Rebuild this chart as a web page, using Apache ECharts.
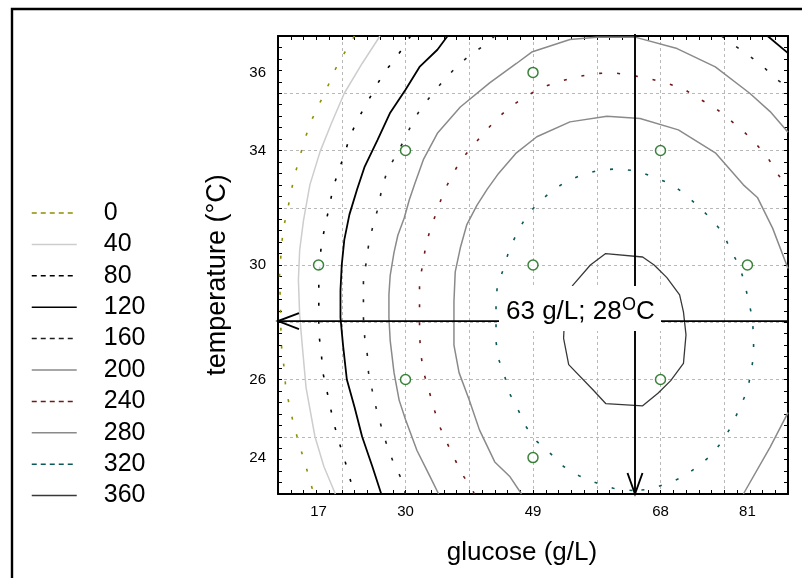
<!DOCTYPE html>
<html>
<head>
<meta charset="utf-8">
<script src="https://cdn.jsdelivr.net/npm/echarts@6/dist/echarts.min.js"></script>
<style>
  html, body { margin: 0; padding: 0; background: #fff; }
  #chart { width: 802px; height: 578px; }
</style>
</head>
<body>
<div id="chart"></div>
<script>
// axes are in coded units (-2 .. 2), labels show the real values
const glucoseCoded = [-1.682, -1, 0, 1, 1.682];
const glucoseTicks = ["17", "30", "49", "68", "81"];
const tempCoded = [-1.682, -1, 0, 1, 1.682];
const tempTicks = ["24", "26", "30", "34", "36"];

const levels = ["0", "40", "80", "120", "160", "200", "240", "280", "320", "360"];

// design points (coded glucose, coded temperature)
const designPoints = [
    [-1.682, 0], [-1, 1], [-1, -1], [0, 1.682], [0, 0],
    [0, -1.682], [1, 1], [1, -1], [1.682, 0],
];

// optimum: 63 g/L; 28 C
const optimum = [0.8, -0.49];
const optimumText = ["63 g/L; 28", "O", "C"];

// contour lines, coded units
const contour0 = [[-1.40,2.00],[-1.48,1.85],[-1.55,1.71],[-1.61,1.56],[-1.67,1.42],[-1.73,1.28],[-1.78,1.13],[-1.82,0.98],[-1.86,0.82],[-1.89,0.68],[-1.92,0.51],[-1.95,0.36],[-1.97,0.20],[-1.98,0.04],[-1.99,-0.13],[-1.98,-0.31],[-1.98,-0.48],[-1.97,-0.76],[-1.95,-0.91],[-1.94,-1.07],[-1.91,-1.23],[-1.88,-1.38],[-1.84,-1.54],[-1.80,-1.69],[-1.76,-1.84],[-1.72,-2.00]];
const contour40 = [[-1.20,2.00],[-1.34,1.76],[-1.48,1.50],[-1.58,1.24],[-1.67,0.99],[-1.75,0.70],[-1.80,0.39],[-1.83,0.13],[-1.84,-0.13],[-1.83,-0.44],[-1.81,-0.70],[-1.78,-1.07],[-1.71,-1.50],[-1.64,-1.76],[-1.55,-2.00]];
const contour80 = [[-0.96,2.00],[-1.00,1.93],[-1.08,1.80],[-1.17,1.68],[-1.24,1.54],[-1.31,1.40],[-1.38,1.26],[-1.44,1.11],[-1.48,0.96],[-1.53,0.81],[-1.57,0.66],[-1.60,0.50],[-1.63,0.34],[-1.66,0.19],[-1.67,0.03],[-1.68,-0.13],[-1.68,-0.29],[-1.68,-0.45],[-1.68,-0.60],[-1.66,-0.77],[-1.65,-0.93],[-1.62,-1.08],[-1.59,-1.24],[-1.56,-1.39],[-1.52,-1.55],[-1.48,-1.69],[-1.44,-1.85],[-1.40,-2.00]];
const contour120a = [[-0.67,2.00],[-0.75,1.88],[-0.89,1.73],[-1.00,1.53],[-1.12,1.33],[-1.22,1.09],[-1.32,0.86],[-1.38,0.66],[-1.44,0.44],[-1.48,0.22],[-1.50,0.00],[-1.51,-0.22],[-1.51,-0.46],[-1.49,-0.70],[-1.46,-1.00],[-1.40,-1.24],[-1.34,-1.50],[-1.26,-1.76],[-1.19,-2.00]];
const contour120b = [[1.84,2.00],[2.00,1.85]];
const contour160a = [[-0.30,2.00],[-0.38,1.92],[-0.50,1.83],[-0.61,1.72],[-0.71,1.60],[-0.80,1.48],[-0.89,1.35],[-0.96,1.21],[-1.02,1.07],[-1.09,0.93],[-1.15,0.80],[-1.19,0.64],[-1.22,0.48],[-1.26,0.32],[-1.29,0.17],[-1.31,0.01],[-1.33,-0.15],[-1.33,-0.31],[-1.33,-0.46],[-1.32,-0.63],[-1.30,-0.78],[-1.29,-0.94],[-1.26,-1.10],[-1.23,-1.25],[-1.19,-1.41],[-1.15,-1.56],[-1.10,-1.71],[-1.04,-1.85],[-1.00,-2.00]];
const contour160b = [[1.48,2.00],[1.55,1.94],[1.68,1.84],[1.79,1.75],[1.90,1.63],[2.00,1.55]];
const contour200 = [[-0.74,-2.00],[-0.82,-1.82],[-0.91,-1.62],[-1.00,-1.35],[-1.05,-1.18],[-1.09,-0.94],[-1.12,-0.66],[-1.13,-0.46],[-1.13,-0.26],[-1.12,-0.09],[-1.09,0.11],[-1.06,0.26],[-1.01,0.41],[-0.97,0.57],[-0.93,0.70],[-0.86,0.92],[-0.75,1.15],[-0.57,1.38],[-0.34,1.59],[-0.13,1.76],[-0.01,1.86],[0.29,1.97],[0.50,1.99],[0.80,1.99],[1.13,1.89],[1.43,1.73],[1.70,1.50],[1.86,1.34],[2.00,1.16]];
const contour240 = [[-0.46,-2.00],[-0.48,-1.95],[-0.56,-1.82],[-0.62,-1.68],[-0.68,-1.54],[-0.74,-1.39],[-0.78,-1.24],[-0.82,-1.08],[-0.86,-0.93],[-0.88,-0.77],[-0.89,-0.61],[-0.89,-0.45],[-0.89,-0.29],[-0.89,-0.14],[-0.86,0.03],[-0.84,0.18],[-0.80,0.33],[-0.75,0.48],[-0.70,0.64],[-0.64,0.77],[-0.57,0.91],[-0.48,1.03],[-0.38,1.16],[-0.28,1.28],[-0.18,1.38],[-0.06,1.47],[0.07,1.55],[0.20,1.60],[0.33,1.64],[0.47,1.67],[0.62,1.68],[0.76,1.66],[0.90,1.63],[1.04,1.59],[1.18,1.54],[1.29,1.46],[1.42,1.38],[1.53,1.28],[1.64,1.18],[1.74,1.07],[1.84,0.94],[1.91,0.81],[2.00,0.67]];
const contour280a = [[-0.09,-2.00],[-0.18,-1.85],[-0.30,-1.72],[-0.42,-1.44],[-0.50,-1.18],[-0.58,-0.94],[-0.62,-0.70],[-0.62,-0.32],[-0.61,-0.06],[-0.57,0.15],[-0.52,0.35],[-0.44,0.52],[-0.36,0.66],[-0.27,0.80],[-0.13,0.98],[0.03,1.12],[0.29,1.25],[0.58,1.30],[0.84,1.28],[1.14,1.18],[1.43,0.98],[1.65,0.70],[1.76,0.59],[1.88,0.32],[2.00,-0.03]];
const contour280b = [[2.00,-1.29],[1.86,-1.59],[1.65,-2.00]];
const contour320 = [[0.78,-1.97],[0.63,-1.95],[0.49,-1.90],[0.36,-1.84],[0.24,-1.76],[0.14,-1.65],[0.03,-1.54],[-0.05,-1.42],[-0.11,-1.28],[-0.18,-1.13],[-0.22,-0.98],[-0.27,-0.82],[-0.29,-0.67],[-0.29,-0.50],[-0.29,-0.33],[-0.28,-0.18],[-0.23,-0.03],[-0.19,0.12],[-0.13,0.27],[-0.06,0.41],[0.03,0.53],[0.14,0.64],[0.26,0.73],[0.39,0.79],[0.53,0.83],[0.67,0.84],[0.82,0.82],[0.94,0.77],[1.08,0.71],[1.19,0.62],[1.29,0.52],[1.40,0.40],[1.49,0.28],[1.55,0.13],[1.62,-0.01],[1.66,-0.16],[1.69,-0.31],[1.72,-0.46],[1.73,-0.63],[1.73,-0.79],[1.71,-0.94],[1.68,-1.10],[1.62,-1.25],[1.56,-1.40],[1.49,-1.53],[1.40,-1.66],[1.29,-1.76],[1.18,-1.85],[1.05,-1.91],[0.91,-1.96],[0.78,-1.97]];
const contour360 = [[0.57,0.10],[0.86,0.07],[0.95,0.00],[1.05,-0.11],[1.15,-0.26],[1.18,-0.41],[1.20,-0.61],[1.18,-0.86],[1.08,-1.01],[0.98,-1.12],[0.86,-1.23],[0.57,-1.21],[0.47,-1.09],[0.28,-0.87],[0.24,-0.64],[0.25,-0.39],[0.31,-0.18],[0.45,0.00],[0.57,0.10]];

const contourPieces = [
    [contour0], [contour40], [contour80], [contour120a, contour120b],
    [contour160a, contour160b], [contour200], [contour240],
    [contour280a, contour280b], [contour320], [contour360],
];

// look of each level
const levelColors = ["#8f8f00", "#cdcdcd", "#000000", "#000000", "#1e1e1e", "#8a8a8a", "#701818", "#8a8a8a", "#0c5858", "#383838"];
const levelDotted = [true, false, true, false, true, false, true, false, true, false];
const levelWidths = [1.6, 1.5, 1.6, 1.8, 1.6, 1.5, 1.6, 1.5, 1.6, 1.3];

const FONT = '"Liberation Sans", Arial, sans-serif';

function tickFormatter(coded, labels) {
    return (v) => {
        const i = coded.findIndex((c) => Math.abs(c - v) < 1e-6);
        return i >= 0 ? labels[i] : "";
    };
}

function frameAxis(position, coded, labels) {
    const withLabels = labels != null;
    return {
        type: "value",
        position: position,
        min: -2,
        max: 2,
        interval: 0.5,
        axisLine: { show: true, onZero: false, lineStyle: { color: "#000", width: 2 } },
        axisTick: { show: true, inside: true, length: 4, lineStyle: { color: "#000", width: 1 } },
        minorTick: { show: true, splitNumber: 5, length: 4, lineStyle: { color: "#000", width: 1 } },
        splitLine: { show: withLabels, lineStyle: { color: "#b8b8b8", width: 1, type: [3, 3] } },
        axisLabel: withLabels ? {
            customValues: coded,
            formatter: tickFormatter(coded, labels),
            color: "#000",
            fontSize: 15,
            fontFamily: FONT,
            margin: position === "bottom" ? 10 : 12,
        } : { show: false },
    };
}

function textEl(x, y, text, size) {
    return {
        type: "text",
        x: x,
        y: y,
        style: {
            text: text,
            fontSize: size,
            fontFamily: FONT,
            fill: "#000",
            align: "left",
            verticalAlign: "middle",
            textAlign: "left",
            textVerticalAlign: "middle",
        },
    };
}

const series = [];
contourPieces.forEach((pieces, i) => {
    pieces.forEach((piece) => {
        series.push({
            type: "line",
            name: levels[i],
            data: piece,
            symbol: "none",
            showSymbol: false,
            smooth: false,
            silent: true,
            z: 3,
            itemStyle: { color: levelColors[i] },
            lineStyle: {
                color: levelColors[i],
                width: levelWidths[i],
                type: levelDotted[i] ? [3, 15] : "solid",
            },
        });
    });
});

series.push({
    type: "scatter",
    name: "design",
    data: designPoints,
    symbol: "circle",
    symbolSize: 10,
    silent: true,
    z: 5,
    itemStyle: { color: "#fff", borderColor: "#0a640a", borderWidth: 1.5 },
});

series.push({
    type: "custom",
    name: "optimum",
    data: [optimum],
    silent: true,
    z: 10,
    renderItem: (params, api) => {
        const p = api.coord([api.value(0), api.value(1)]);
        const cs = params.coordSys;
        const L = cs.x, R = cs.x + cs.width, T = cs.y, B = cs.y + cs.height;
        const stroke = { stroke: "#000", lineWidth: 1.9, fill: null };
        const x0 = p[0] - 129;
        return {
            type: "group",
            children: [
                { type: "line", shape: { x1: L, y1: p[1], x2: R, y2: p[1] }, style: stroke },
                { type: "line", shape: { x1: p[0], y1: T - 2, x2: p[0], y2: B }, style: stroke },
                { type: "polyline", shape: { points: [[L + 21, p[1] - 8], [L, p[1]], [L + 21, p[1] + 8]] }, style: stroke },
                { type: "polyline", shape: { points: [[p[0] - 7.5, B - 21], [p[0], B], [p[0] + 7.5, B - 21]] }, style: stroke },
                { type: "rect", shape: { x: p[0] - 136, y: p[1] - 35, width: 162, height: 45 }, style: { fill: "#fff" } },
                textEl(x0, p[1] - 9, optimumText[0], 26),
                textEl(x0 + 116, p[1] - 16, optimumText[1], 18),
                textEl(x0 + 130, p[1] - 9, optimumText[2], 26),
            ],
        };
    },
});

const chart = echarts.init(document.getElementById("chart"), null, { renderer: "canvas" });

chart.setOption({
    animation: false,
    backgroundColor: "#fff",
    grid: { left: 278, top: 36, width: 510, height: 458, outerBoundsMode: "none" },
    xAxis: [
        frameAxis("bottom", glucoseCoded, glucoseTicks),
        frameAxis("top", null, null),
    ],
    yAxis: [
        frameAxis("left", tempCoded, tempTicks),
        frameAxis("right", null, null),
    ],
    legend: {
        orient: "vertical",
        left: 31,
        top: 197.5,
        padding: 0,
        itemGap: 0.4,
        itemWidth: 45,
        itemHeight: 12,
        selectedMode: false,
        itemStyle: { opacity: 0, borderWidth: 0 },
        textStyle: { fontSize: 25, fontFamily: FONT, color: "#000", lineHeight: 31, padding: [0, 0, 0, 22] },
        data: levels.map((l, i) => ({
            name: l,
            itemStyle: { opacity: 0, borderWidth: 0 },
            lineStyle: levelDotted[i] ? { type: [5, 4], width: 1.5 } : { width: 1.5 },
        })),
    },
    graphic: [
        {
            type: "rect",
            shape: { x: 12, y: 9, width: 820, height: 620 },
            style: { stroke: "#000", lineWidth: 2.4, fill: null },
            silent: true,
        },
        {
            type: "text",
            x: 218,
            y: 275,
            rotation: Math.PI / 2,
            style: {
                text: "temperature (°C)",
                fontSize: 27,
                fontFamily: FONT,
                fill: "#000",
                align: "center",
                verticalAlign: "middle",
                textAlign: "center",
                textVerticalAlign: "middle",
            },
        },
        {
            type: "text",
            x: 522,
            y: 553,
            style: {
                text: "glucose (g/L)",
                fontSize: 26,
                fontFamily: FONT,
                fill: "#000",
                align: "center",
                verticalAlign: "middle",
                textAlign: "center",
                textVerticalAlign: "middle",
            },
        },
    ],
    series: series,
});
</script>
</body>
</html>
